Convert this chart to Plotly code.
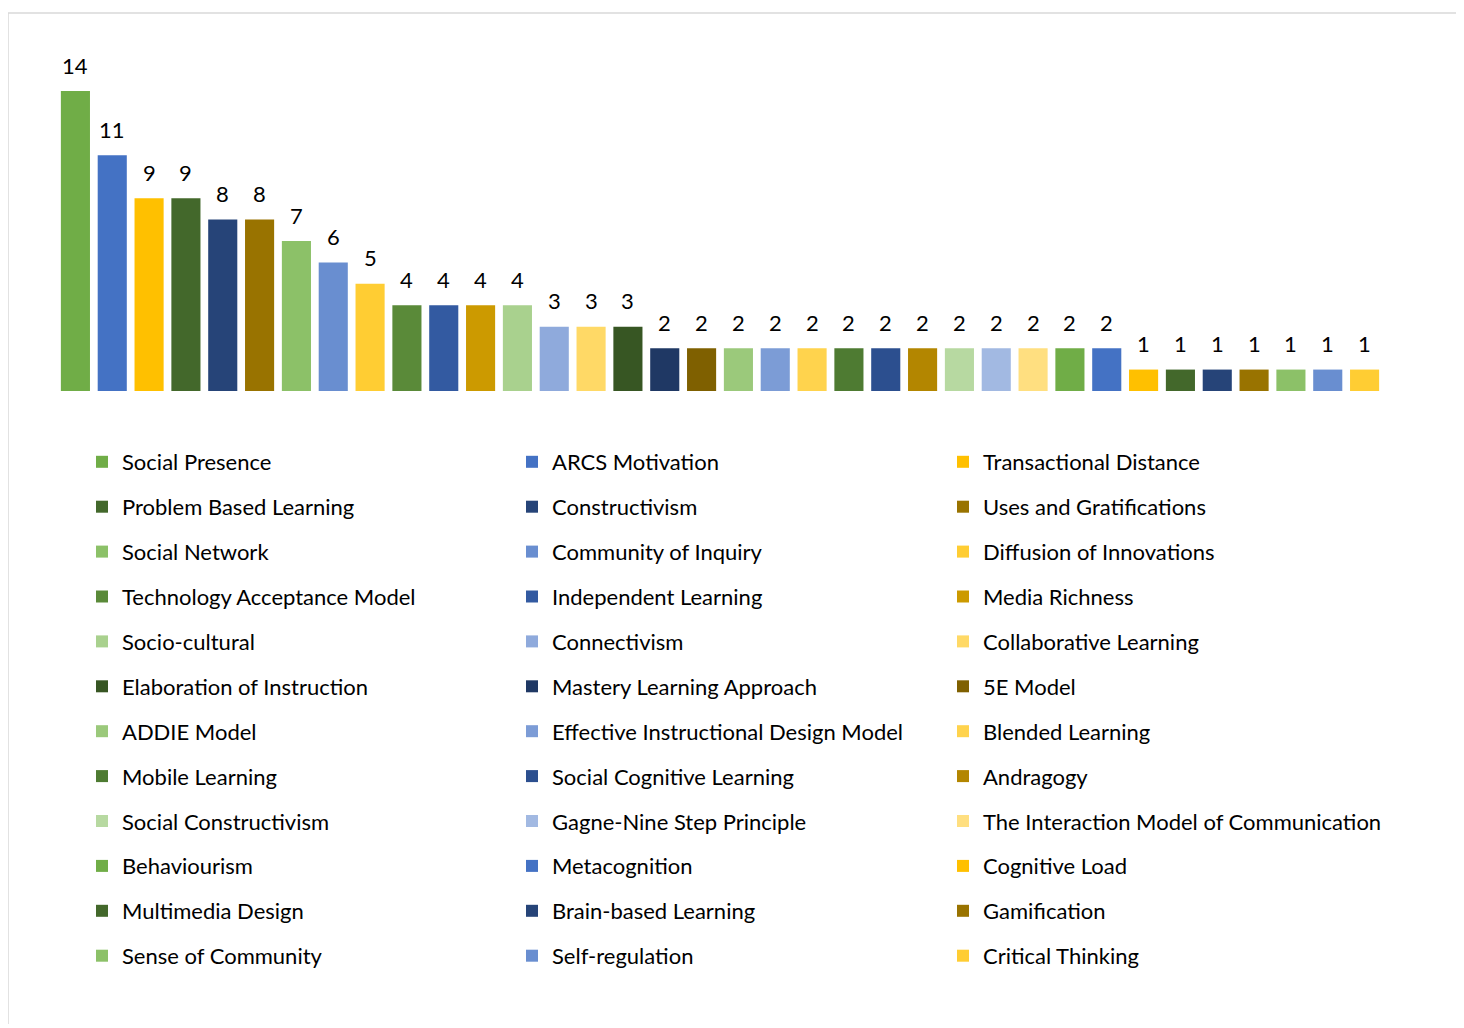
import plotly.graph_objects as go

categories = [
    "Social Presence", "ARCS Motivation", "Transactional Distance",
    "Problem Based Learning", "Constructivism", "Uses and Gratifications",
    "Social Network", "Community of Inquiry", "Diffusion of Innovations",
    "Technology Acceptance Model", "Independent Learning", "Media Richness",
    "Socio-cultural", "Connectivism", "Collaborative Learning",
    "Elaboration of Instruction", "Mastery Learning Approach", "5E Model",
    "ADDIE Model", "Effective Instructional Design Model", "Blended Learning",
    "Mobile Learning", "Social Cognitive Learning", "Andragogy",
    "Social Constructivism", "Gagne-Nine Step Principle", "The Interaction Model of Communication",
    "Behaviourism", "Metacognition", "Cognitive Load",
    "Multimedia Design", "Brain-based Learning", "Gamification",
    "Sense of Community", "Self-regulation", "Critical Thinking",
]
values = [14, 11, 9, 9, 8, 8, 7, 6, 5, 4, 4, 4, 4, 3, 3, 3,
          2, 2, 2, 2, 2, 2, 2, 2, 2, 2, 2, 2, 2,
          1, 1, 1, 1, 1, 1, 1]
colors = [
    "#70AD47", "#4472C4", "#FFC000",
    "#43682B", "#264478", "#997300",
    "#8CC168", "#698ED0", "#FFCD33",
    "#5A8A39", "#335AA1", "#CC9A00",
    "#A9D18E", "#8FAADC", "#FFD966",
    "#375623", "#1F3864", "#7F6000",
    "#9BC97B", "#7C9CD6", "#FFD34D",
    "#4E7B32", "#2C4F8F", "#B38600",
    "#B7D9A1", "#A2B9E2", "#FFDF80",
    "#70AD47", "#4472C4", "#FFC000",
    "#43682B", "#264478", "#997300",
    "#8CC168", "#698ED0", "#FFCD33",
]

FONT = "Lato"
OFF = 8  # page body margin
W, H = 1448, 1016
# plot area in page pixels
PL, PR, PT, PB = 57, 1383, 40, 391
ML, MR, MT, MB = PL - OFF, W - (PR - OFF), PT - OFF, H - (PB - OFF)
PW, PH = W - ML - MR, H - MT - MB

def px_x(p):  # page pixel -> paper x
    return (p - OFF - ML) / PW

def px_y(p):  # page pixel -> paper y
    return (H - MB - (p - OFF)) / PH

fig = go.Figure()
legend_names = ["legend", "legend2", "legend3"]
for i, (name, v, c) in enumerate(zip(categories, values, colors)):
    fig.add_trace(go.Bar(
        x=[i], y=[v], name=name, marker_color=c, marker_line_width=0,
        legend=legend_names[i % 3], legendgroup=name, showlegend=True,
        hoverinfo="name+y",
    ))
    fig.add_annotation(x=i, y=v, text=str(v), showarrow=False,
                       yanchor="middle", yshift=26,
                       font=dict(family=FONT, size=22, color="#000000"))

leg_common = dict(orientation="v", yanchor="top", xanchor="left",
                  font=dict(family=FONT, size=22, color="#000000"),
                  bgcolor="rgba(0,0,0,0)", tracegroupgap=13.3,
                  itemclick=False, itemdoubleclick=False, maxheight=2000)
col_text_x = [122, 552, 983]
leg_top = 441
fig.update_layout(
    width=W, height=H,
    margin=dict(l=ML, r=MR, t=MT, b=MB),
    paper_bgcolor="white", plot_bgcolor="white",
    barmode="overlay",
    showlegend=True,
    xaxis=dict(range=[-0.5, len(values) - 0.5], visible=False, fixedrange=True),
    yaxis=dict(range=[0, 16.38], visible=False, fixedrange=True),
    legend=dict(x=px_x(col_text_x[0] - 40), y=px_y(leg_top), **leg_common),
    legend2=dict(x=px_x(col_text_x[1] - 40), y=px_y(leg_top), **leg_common),
    legend3=dict(x=px_x(col_text_x[2] - 40), y=px_y(leg_top), **leg_common),
)
fig.update_traces(width=0.79)
fig.add_shape(type="rect", xref="paper", yref="paper",
              x0=px_x(8), x1=px_x(1480), y0=px_y(1040), y1=px_y(13),
              line=dict(color="#D9D9D9", width=1.5), fillcolor="rgba(0,0,0,0)",
              layer="below")

fig.write_html("out.html")
